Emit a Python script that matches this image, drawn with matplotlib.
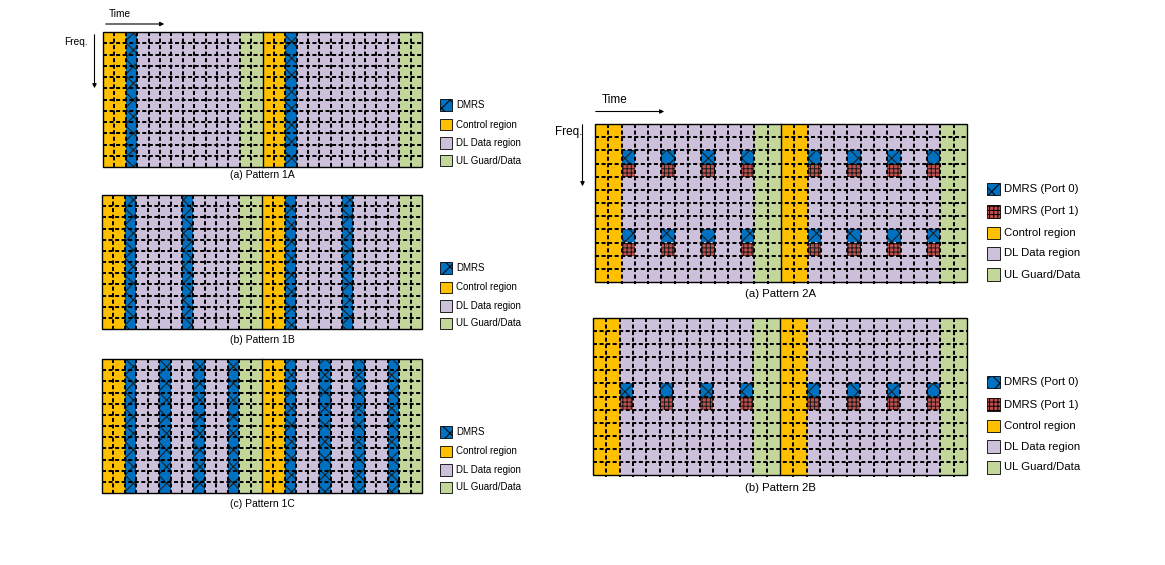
import matplotlib.pyplot as plt
from matplotlib.patches import Rectangle

plt.rcParams['font.family'] = ['Liberation Sans', 'DejaVu Sans']
plt.rcParams['hatch.linewidth'] = 0.7

# ------------------------------------------------------------
# Layout of one slot (14 OFDM symbols), 2 slots per grid
# C = control, D = DMRS, P = DL data, U = UL guard/data
# ------------------------------------------------------------
slot_1a = "CCDPPPPPPPPPUU"
slot_1b = "CCDPPPPDPPPPUU"
slot_1c = "CCDPPDPPDPPDUU"
slot_2 = "CCPPPPPPPPPPUU"
n_rows = 12

# pattern 2: DMRS symbols inside a slot and (port 0, port 1) subcarrier rows
dmrs2_cols = [2, 5, 8, 11]
dmrs2a_rows = [(2, 3), (8, 9)]
dmrs2b_rows = [(5, 6)]

legend1_labels = ["DMRS", "Control region", "DL Data region", "UL Guard/Data"]
legend2_labels = ["DMRS (Port 0)", "DMRS (Port 1)", "Control region",
                  "DL Data region", "UL Guard/Data"]
captions1 = ["(a) Pattern 1A", "(b) Pattern 1B", "(c) Pattern 1C"]
captions2 = ["(a) Pattern 2A", "(b) Pattern 2B"]

colors = {"C": "#FFC000", "D": "#0070C0", "P": "#CCC0DA", "U": "#C4D79B",
          "R": "#C0504D"}
hatches = {"D": "xx", "R": "++++"}


def cell(ax, x, y, w, h, kind, lw=0):
    ax.add_patch(Rectangle((x, y), w, h, facecolor=colors[kind],
                           edgecolor="black" if lw else "#1a1a1a", lw=lw,
                           hatch=hatches.get(kind)))


def draw_grid(ax, x0, y0, x1, y1, slot, dmrs_rows=None):
    cols = slot + slot
    nc = len(cols)
    cw = (x1 - x0) / nc
    rh = (y1 - y0) / n_rows
    for i, k in enumerate(cols):
        cell(ax, x0 + i * cw, y0, cw, y1 - y0, k)
    if dmrs_rows:
        for s in range(2):
            for c in dmrs2_cols:
                cc = c + s * len(slot)
                for r0, r1 in dmrs_rows:
                    cell(ax, x0 + cc * cw, y0 + r0 * rh, cw, rh, "D")
                    cell(ax, x0 + cc * cw, y0 + r1 * rh, cw, rh, "R")
    for i in range(1, nc):
        if i == len(slot):
            continue
        ax.plot([x0 + i * cw] * 2, [y0, y1 + 1.5], color="black", lw=1.45,
                ls=(0, (2, 1.25)), solid_capstyle="butt")
    for j in range(1, n_rows):
        ax.plot([x0, x1], [y0 + j * rh] * 2, color="black", lw=1.45,
                ls=(0, (2, 1.25)))
    ax.plot([x0 + len(slot) * cw] * 2, [y0, y1], color="black", lw=1.0)
    ax.add_patch(Rectangle((x0, y0), x1 - x0, y1 - y0, fill=False,
                           edgecolor="black", lw=1.0))


def draw_legend(ax, x, ys, labels, kinds, size, fs):
    for y, lab, k in zip(ys, labels, kinds):
        cell(ax, x, y - size / 2, size, size, k, lw=0.6)
        ax.text(x + size + 5, y, lab, fontsize=fs, va="center", ha="left")


def draw_axes_arrows(ax, tx, fx, fs):
    ax.annotate("", xy=(tx[1], tx[2]), xytext=(tx[0], tx[2]),
                arrowprops=dict(arrowstyle="-|>", color="black", lw=0.8,
                                mutation_scale=6))
    ax.text(tx[3], tx[4], "Time", fontsize=fs, va="center", ha="left")
    ax.annotate("", xy=(fx[0], fx[2]), xytext=(fx[0], fx[1]),
                arrowprops=dict(arrowstyle="-|>", color="black", lw=0.8,
                                mutation_scale=6))
    ax.text(fx[3], fx[4], "Freq.", fontsize=fs, va="center", ha="right")


fig = plt.figure(figsize=(11.65, 5.65), dpi=100)
ax = fig.add_axes([0, 0, 1, 1])
ax.set_xlim(0, 1165)
ax.set_ylim(565, 0)
ax.axis("off")

# ---------------- Pattern 1 ----------------
grids1 = [(103, 32, 422, 167, slot_1a), (102, 195, 422, 329, slot_1b),
          (102, 359, 422, 493, slot_1c)]
cap1_y = [175, 340, 504]
for (x0, y0, x1, y1, sl), cap, cy in zip(grids1, captions1, cap1_y):
    draw_grid(ax, x0, y0, x1, y1, sl)
    ax.text((x0 + x1) / 2, cy, cap, fontsize=7.5, ha="center", va="center")
    base = y0 + 73
    draw_legend(ax, 440, [base, base + 19.5, base + 38, base + 55.5],
                legend1_labels, ["D", "C", "P", "U"], 11.5, 7)

draw_axes_arrows(ax, (103, 167, 24, 109, 14), (94.5, 32, 91, 88, 42), 7.3)

# ---------------- Pattern 2 ----------------
grids2 = [(595, 124, 967, 282, dmrs2a_rows), (593, 318, 967, 475, dmrs2b_rows)]
cap2_y = [294, 488]
leg2_y = [189, 382]
for (x0, y0, x1, y1, rows), cap, cy, ly in zip(grids2, captions2, cap2_y, leg2_y):
    draw_grid(ax, x0, y0, x1, y1, slot_2, rows)
    ax.text((x0 + x1) / 2, cy, cap, fontsize=8.2, ha="center", va="center")
    draw_legend(ax, 987, [ly, ly + 22.5, ly + 44, ly + 64.5, ly + 85.5],
                legend2_labels, ["D", "R", "C", "P", "U"], 12.5, 8.2)

draw_axes_arrows(ax, (593, 667, 111.5, 602, 100), (582.5, 122, 189, 582, 131.5),
                 8.5)

fig.savefig("out.png", dpi=100, facecolor="white")
